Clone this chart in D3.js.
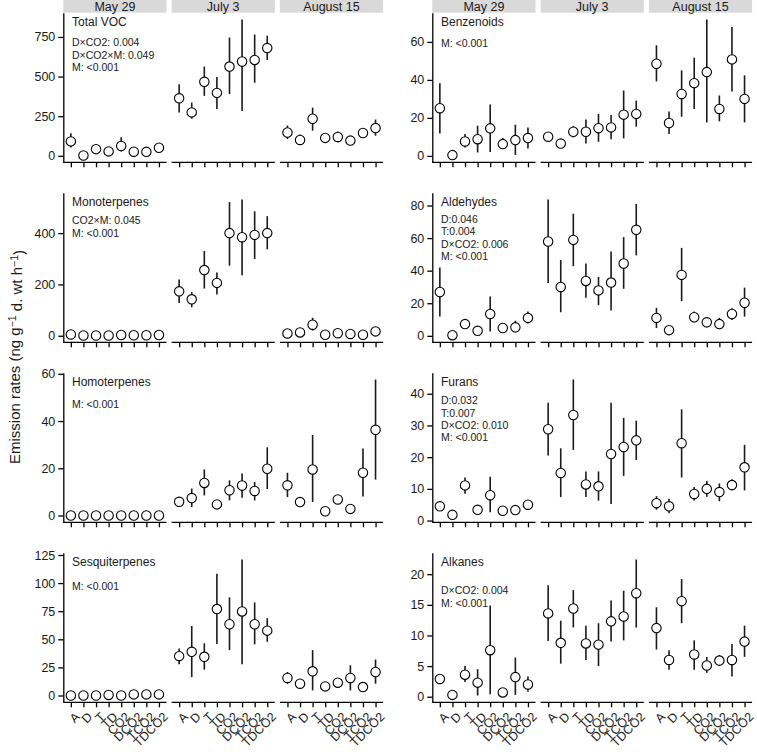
<!DOCTYPE html>
<html lang="en">
<head>
<meta charset="UTF-8">
<title>Emission rates</title>
<script src="https://d3js.org/d3.v7.min.js"></script>
<style>
  body { margin: 0; background: #fff; }
  svg { font-family: "Liberation Sans", Arial, sans-serif; }
  .axis path, .axis line { stroke: #000; stroke-width: 1.3; }
  .axis text { fill: #1a1a1a; }
</style>
</head>
<body>
<svg width="757" height="756"></svg>
<script>
var dates = ['May 29', 'July 3', 'August 15'];
var treatments = ['A', 'D', 'T', 'TD', 'CO2', 'DCO2', 'TCO2', 'TDCO2'];

// 24 values each: 8 treatments for May 29, then July 3, then August 15
var totalVocMean = [91, 2, 42, 28, 62, 26, 25, 51,  363, 274, 467, 397, 563, 595, 605, 680,  147, 100, 234, 113, 119, 96, 144, 175];
var totalVocLow  = [53, 2, 36, 24, 28, 22, 21, 46,  274, 234, 378, 295, 389, 283, 461, 605,  106, 70, 159, 100, 85, 85, 130, 127];
var totalVocHigh = [142, 4, 48, 32, 117, 30, 29, 56,  452, 336, 563, 497, 746, 860, 765, 758,  191, 134, 304, 125, 153, 107, 158, 229];

var monoMean = [5, 1, 1, 1, 3, 2, 2, 3,  173, 142, 256, 206, 400, 384, 393, 400,  9, 13, 43, 4, 10, 7, 4, 17];
var monoLow  = [5, 1, 1, 1, 3, 2, 2, 3,  128, 111, 184, 161, 273, 236, 299, 337,  5, 8, 20, 2, 6, 4, 2, 12];
var monoHigh = [5, 1, 1, 1, 3, 2, 2, 3,  219, 170, 330, 247, 521, 531, 485, 466,  13, 18, 70, 6, 14, 10, 6, 22];

var homoMean = [0, 0, 0, 0, 0, 0, 0, 0,  5.8, 7.4, 13.8, 4.7, 10.7, 12.7, 10.4, 19.8,  12.8, 5.7, 19.5, 1.8, 6.8, 2.8, 18.1, 36.3];
var homoLow  = [0, 0, 0, 0, 0, 0, 0, 0,  4.1, 3.6, 8.5, 4.2, 6.4, 7.5, 6.4, 11.2,  7.8, 5.2, 5.7, 1.5, 6.2, 2.4, 8.1, 15.2];
var homoHigh = [0, 0, 0, 0, 0, 0, 0, 0,  7.8, 11.4, 19.5, 5.2, 14.9, 17.8, 14.2, 28.9,  18.1, 6.2, 34.1, 2.1, 7.4, 3.2, 28.4, 57.6];

var sesqMean = [0, 0, 0, 0.5, 0, 1, 1, 1,  35, 38.9, 34.4, 76.9, 63.4, 74.8, 63.4, 57.7,  15.6, 10.5, 21.5, 8.1, 11.4, 15.6, 7.5, 20.9];
var sesqLow  = [0, 0, 0, 0.5, 0, 1, 1, 1,  27.8, 16.4, 23, 45.8, 40.4, 27.8, 45.5, 47.8,  10.5, 9, 4.5, 7, 10, 4.5, 6.5, 10.5];
var sesqHigh = [0, 0, 0, 0.5, 0, 1, 1, 1,  41.9, 61.9, 46.4, 108.3, 87.3, 121, 82.8, 68.8,  20.9, 12, 40.4, 9.2, 12.8, 26.9, 8.5, 32];

var benzMean = [25.1, 0.4, 7.6, 8.8, 14.5, 6.2, 8.3, 9.4,  10.1, 6.5, 12.7, 12.7, 14.6, 15, 21.7, 22.1,  48.5, 17.3, 32.6, 38.3, 44.1, 24.7, 50.8, 30];
var benzLow  = [11.8, 0.2, 4.4, 1.8, 2.1, 4.1, 0.5, 3.9,  9.5, 6, 9.7, 6.5, 7.4, 8.8, 9.2, 15.4,  39.2, 11.5, 20.6, 24.7, 17.6, 18.2, 33.9, 17.6];
var benzHigh = [38.3, 0.6, 11.5, 15.9, 27, 9.4, 16.4, 15,  10.7, 7, 15.7, 19.1, 22.1, 21.5, 34.4, 29.1,  58.2, 23.3, 45, 51.7, 71.8, 31.8, 67.9, 42.4];

var aldMean = [26.9, 0.4, 7.2, 3.1, 13.4, 4.8, 5.2, 11,  57.9, 30, 58.9, 33.7, 27.9, 32.7, 44.4, 65.1,  11, 3.5, 37.4, 11.4, 8.3, 7.2, 13.4, 20.3];
var aldLow  = [11.8, 0.2, 6.5, 2.5, 2.7, 4.3, 2.1, 7.6,  32.5, 14.5, 42.8, 23.4, 18.8, 15.5, 28.9, 49.4,  4.8, 3, 21.3, 8.3, 5.2, 4.1, 9.7, 11.8];
var aldHigh = [42, 0.6, 8, 3.7, 24.2, 5.3, 9.3, 14.9,  83.7, 46.5, 75, 44.4, 36.2, 51.7, 60.6, 81,  17.2, 4, 54, 14.9, 11.4, 11, 17, 29.6];

var furMean = [4.5, 1.8, 11.1, 3.4, 8, 3.1, 3.3, 5,  28.8, 15, 33.3, 11.4, 10.8, 21, 23.2, 25.3,  5.5, 4.5, 24.4, 8.4, 10, 9, 11.2, 16.8];
var furLow  = [4.2, 1.6, 8.5, 3.1, 2.6, 2.8, 2, 4.7,  20.5, 7.4, 22.3, 7.4, 6.3, 5.2, 14.1, 19.1,  3.4, 2.3, 13.6, 6.3, 7.5, 6.1, 9.5, 9.5];
var furHigh = [4.8, 2, 13.6, 3.7, 13.8, 3.4, 4.5, 5.3,  37.2, 22.8, 44.5, 15.5, 15.5, 37.2, 32.4, 31.5,  7.7, 6.9, 35.1, 10.6, 12.5, 11.7, 13, 23.9];

var alkMean = [2.9, 0.3, 3.6, 2.3, 7.6, 0.7, 3.2, 2,  13.6, 8.8, 14.4, 8.7, 8.5, 12.3, 13.1, 16.9,  11.2, 6, 15.6, 6.9, 5.1, 5.9, 6, 9];
var alkLow  = [2.7, 0.2, 2.4, 0.2, 0.4, 0.6, 0.3, 0.8,  9.1, 5.4, 11.3, 6, 5, 9, 9.2, 11.3,  7.7, 4.4, 12, 4.4, 3.9, 5, 3.3, 6.5];
var alkHigh = [3.1, 0.4, 5, 4.5, 14.9, 0.8, 6.4, 3.3,  18.2, 12.4, 17.4, 11.6, 12, 15.7, 17.3, 22.4,  14.6, 7.6, 19.2, 9.2, 6.5, 6.8, 8.6, 11.6];

var panelNames = ['Total VOC', 'Monoterpenes', 'Homoterpenes', 'Sesquiterpenes',
                  'Benzenoids', 'Aldehydes', 'Furans', 'Alkanes'];
var panelTicks = [[0, 250, 500, 750], [0, 200, 400], [0, 20, 40, 60], [0, 25, 50, 75, 100, 125],
                  [0, 20, 40, 60], [0, 20, 40, 60, 80], [0, 10, 20, 30, 40], [0, 5, 10, 15, 20]];
var panelStats = [
  ['D×CO2: 0.004', 'D×CO2×M: 0.049', 'M: <0.001'],
  ['CO2×M: 0.045', 'M: <0.001'],
  ['M: <0.001'],
  ['M: <0.001'],
  ['M: <0.001'],
  ['D:0.046', 'T:0.004', 'D×CO2: 0.006', 'M: <0.001'],
  ['D:0.032', 'T:0.007', 'D×CO2: 0.010', 'M: <0.001'],
  ['D×CO2: 0.004', 'M: <0.001']
];
var panelData = [
  [totalVocMean, totalVocLow, totalVocHigh], [monoMean, monoLow, monoHigh],
  [homoMean, homoLow, homoHigh], [sesqMean, sesqLow, sesqHigh],
  [benzMean, benzLow, benzHigh], [aldMean, aldLow, aldHigh],
  [furMean, furLow, furHigh], [alkMean, alkLow, alkHigh]
];

// layout
var colLeft = [63.3, 432.3];
var facetW = 103.2, facetGap = 5.1;
var rowTop0 = 12.7, rowH = 149.6, rowStep = 180;
var statTop = [30, 28, 31.3, 34, 30.6, 26.6, 28, 38];

var svg = d3.select('svg');

panelNames.forEach(function (name, p) {
  var col = Math.floor(p / 4), row = p % 4;
  var left = colLeft[col];
  var top = rowTop0 + row * rowStep;
  var bottom = top + rowH;
  var mean = panelData[p][0], low = panelData[p][1], high = panelData[p][2];

  var lo = d3.min(low), hi = d3.max(high);
  var pad = (hi - lo) * 0.05;
  var y = d3.scaleLinear().domain([lo - pad, hi + pad]).range([bottom, top]);

  var g = svg.append('g');

  dates.forEach(function (date, f) {
    var fx = left + f * (facetW + facetGap);
    var x = d3.scalePoint().domain(treatments).range([fx, fx + facetW]).padding(0.6);

    if (row === 0) {
      g.append('rect').attr('x', fx).attr('y', 0).attr('width', facetW).attr('height', 12.7)
        .attr('fill', '#d9d9d9');
      g.append('text').attr('x', fx + facetW / 2).attr('y', 11).attr('text-anchor', 'middle')
        .style('font-size', '12.5px').attr('fill', '#1a1a1a').text(date);
    }

    var xAxis = d3.axisBottom(x).tickSize(5).tickSizeOuter(0);
    var xg = g.append('g').attr('class', 'axis')
      .attr('transform', 'translate(0,' + bottom + ')')
      .call(xAxis);
    if (row === 3) {
      xg.selectAll('text')
        .attr('x', 0).attr('y', 0).attr('dy', '0.71em')
        .attr('transform', 'translate(3,9) rotate(-45)')
        .style('text-anchor', 'end')
        .style('font-size', '12.5px');
    } else {
      xg.selectAll('text').remove();
    }
    xg.select('.domain').attr('d', 'M' + fx + ',0H' + (fx + facetW));

    var rows = treatments.map(function (t, i) {
      var k = f * 8 + i;
      return { t: t, m: mean[k], l: low[k], h: high[k] };
    });

    g.selectAll(null).data(rows).enter().append('line')
      .attr('x1', function (d) { return x(d.t); })
      .attr('x2', function (d) { return x(d.t); })
      .attr('y1', function (d) { return y(d.l); })
      .attr('y2', function (d) { return y(d.h); })
      .attr('stroke', '#1a1a1a').attr('stroke-width', 1.6);

    g.selectAll(null).data(rows).enter().append('circle')
      .attr('cx', function (d) { return x(d.t); })
      .attr('cy', function (d) { return y(d.m); })
      .attr('r', 4.7)
      .attr('fill', '#fff').attr('stroke', '#000').attr('stroke-width', 1.1);
  });

  var yAxis = d3.axisLeft(y).tickValues(panelTicks[p]).tickSize(5).tickPadding(3).tickSizeOuter(0);
  var yg = g.append('g').attr('class', 'axis')
    .attr('transform', 'translate(' + left + ',0)')
    .call(yAxis);
  yg.selectAll('text').style('font-size', '12.5px');

  g.append('text').attr('x', left + 8.7).attr('y', top + 9).attr('dy', '0.35em')
    .style('font-size', '12px').attr('fill', '#1a1a1a').text(name);

  g.selectAll(null).data(panelStats[p]).enter().append('text')
    .attr('x', left + 8.7)
    .attr('y', function (d, i) { return top + statTop[p] + i * 12.3; })
    .attr('dy', '0.35em')
    .style('font-size', '10.5px').attr('fill', '#1a1a1a')
    .text(function (d) { return d; });
});

var yTitle = svg.append('text')
  .attr('transform', 'translate(20,357) rotate(-90)')
  .attr('text-anchor', 'middle')
  .style('font-size', '15px').attr('fill', '#1a1a1a');
yTitle.append('tspan').text('Emission rates (ng g');
yTitle.append('tspan').attr('dy', '-0.4em').style('font-size', '10.5px').text('−1');
yTitle.append('tspan').attr('dy', '0.4em').text(' d. wt h');
yTitle.append('tspan').attr('dy', '-0.4em').style('font-size', '10.5px').text('−1');
yTitle.append('tspan').attr('dy', '0.4em').text(')');
</script>
</body>
</html>
